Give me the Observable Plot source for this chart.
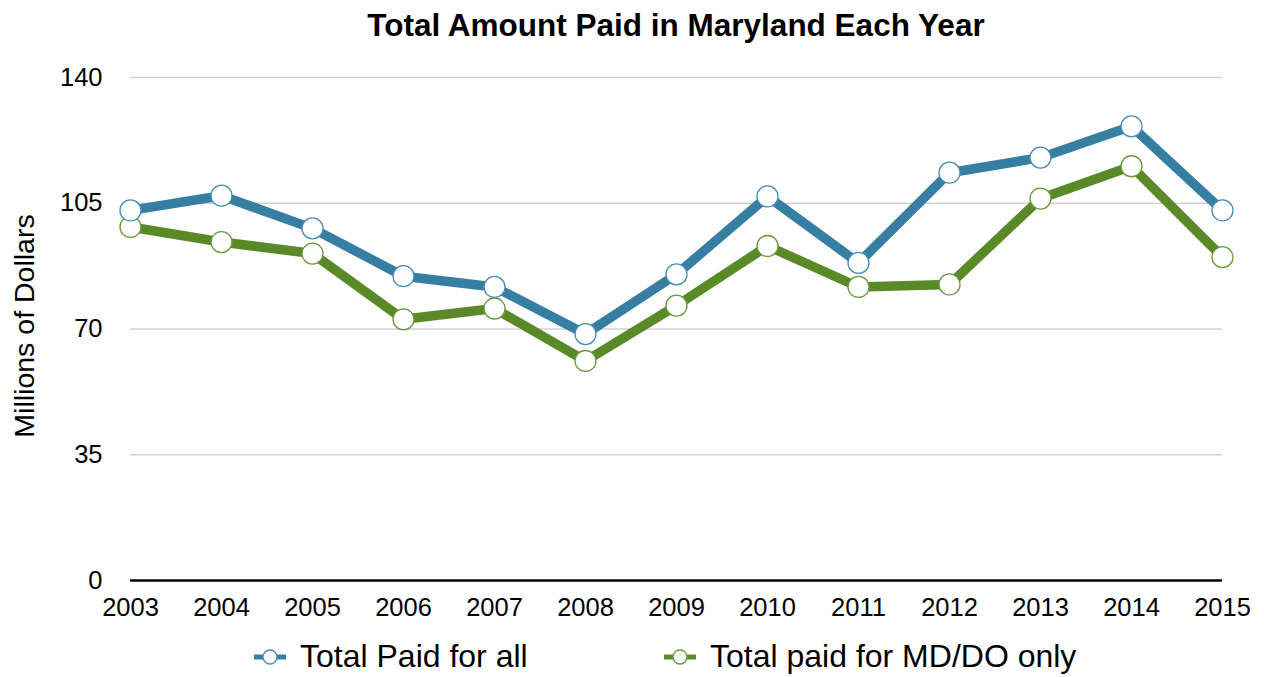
<!DOCTYPE html>
<html>
<head>
<meta charset="utf-8">
<script src="https://cdn.jsdelivr.net/npm/d3@7"></script>
<script src="https://cdn.jsdelivr.net/npm/@observablehq/plot@0.6"></script>
<style>
  html, body { margin: 0; padding: 0; background: #fff; }
  body { width: 1264px; height: 677px; overflow: hidden; font-family: "Liberation Sans", Arial, sans-serif; }
  #title { height: 50px; line-height: 50px; font-weight: bold; font-size: 31.5px; text-align: center; padding-left: 88px; color: #000; }
  #chart svg { display: block; }
  #legend { position: relative; height: 42px; font-size: 32px; color: #000; }
  .item { position: absolute; top: 0; height: 42px; line-height: 42px; white-space: nowrap; }
  .sw { position: absolute; top: 13px; }
</style>
</head>
<body>
<div id="title">Total Amount Paid in Maryland Each Year</div>
<div id="chart"></div>
<div id="legend"></div>
<script>
const years = [2003, 2004, 2005, 2006, 2007, 2008, 2009, 2010, 2011, 2012, 2013, 2014, 2015];
const totalPaidAll = [103.0, 107.1, 98.0, 84.7, 81.7, 68.6, 85.2, 106.9, 88.4, 113.5, 117.7, 126.4, 103.0];
const totalPaidMdDo = [98.4, 94.2, 91.0, 72.7, 75.7, 61.1, 76.5, 93.1, 81.7, 82.4, 106.3, 115.3, 90.0];
const yTicks = [0, 35, 70, 105, 140];
const seriesNames = ["Total Paid for all", "Total paid for MD/DO only"];
const seriesColors = ["#367fa3", "#5a8a28"];
const markerStroke = ["#4a8db4", "#6a9a3c"];

const allData = years.map((year, i) => ({year, value: totalPaidAll[i]}));
const mdData = years.map((year, i) => ({year, value: totalPaidMdDo[i]}));

const chart = Plot.plot({
  width: 1264,
  height: 585,
  marginTop: 27,
  marginBottom: 55,
  marginLeft: 130,
  marginRight: 42,
  style: {fontFamily: "Liberation Sans, Arial, sans-serif", color: "#000", background: "#fff"},
  x: {domain: [2003, 2015]},
  y: {domain: [0, 140]},
  marks: [
    Plot.ruleY(yTicks.filter(d => d > 0), {stroke: "#d2d2d2", strokeWidth: 1.3}),
    Plot.ruleY([0], {stroke: "#000", strokeWidth: 2.6}),
    Plot.axisY({ticks: yTicks, tickSize: 0, tickPadding: 28, fontSize: 25.5, label: null}),
    Plot.axisX({ticks: years, tickFormat: d => String(d), tickSize: 0, tickPadding: 17, fontSize: 25.5, label: null}),
    Plot.text(["Millions of Dollars"], {text: d => d, frameAnchor: "left", rotate: -90, dx: -106, dy: -3, fontSize: 28.5, textAnchor: "middle"}),
    Plot.line(mdData, {x: "year", y: "value", stroke: seriesColors[1], strokeWidth: 9.5, strokeLinejoin: "round"}),
    Plot.dot(mdData, {x: "year", y: "value", r: 10.5, fill: "#fff", stroke: markerStroke[1], strokeWidth: 1.3}),
    Plot.line(allData, {x: "year", y: "value", stroke: seriesColors[0], strokeWidth: 9.5, strokeLinejoin: "round"}),
    Plot.dot(allData, {x: "year", y: "value", r: 10.5, fill: "#fff", stroke: markerStroke[0], strokeWidth: 1.3})
  ]
});
document.getElementById("chart").appendChild(chart);

const legend = document.getElementById("legend");
const positions = [252, 662];
seriesNames.forEach((name, i) => {
  const left = positions[i];
  const sw = document.createElementNS("http://www.w3.org/2000/svg", "svg");
  sw.setAttribute("width", 36);
  sw.setAttribute("height", 18);
  sw.setAttribute("class", "sw");
  sw.style.left = left + "px";
  sw.innerHTML = `<line x1="2" x2="34" y1="9" y2="9" stroke="${seriesColors[i]}" stroke-width="5"/>` +
    `<circle cx="18" cy="9" r="7" fill="#fff" stroke="${markerStroke[i]}" stroke-width="1.3"/>`;
  legend.appendChild(sw);
  const t = document.createElement("div");
  t.className = "item";
  t.style.left = (left + 48) + "px";
  t.textContent = name;
  legend.appendChild(t);
});
</script>
</body>
</html>
